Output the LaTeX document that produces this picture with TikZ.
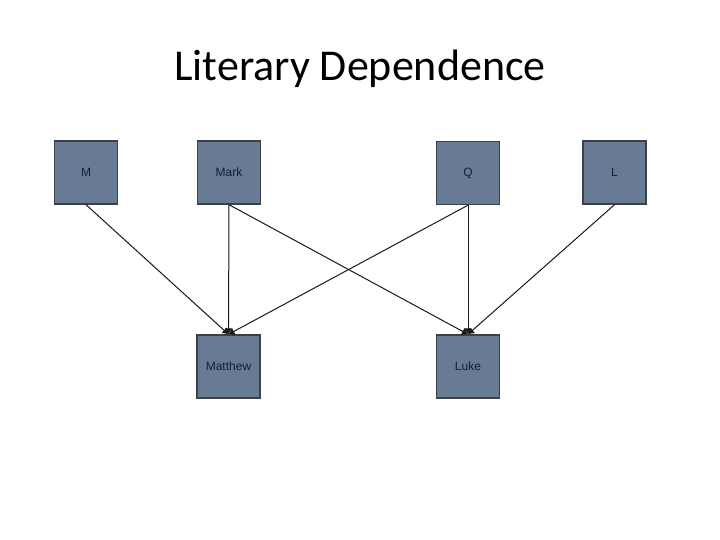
\documentclass[tikz,border=0pt]{standalone}
\usepackage{fontspec}
\setmainfont{Carlito}
\newfontfamily\boxfont{Liberation Sans}
\usetikzlibrary{arrows.meta}
\definecolor{sourceColor}{RGB}{103,123,149}
\definecolor{edgeColor}{RGB}{62,64,72}
\definecolor{labelColor}{RGB}{22,30,52}
\tikzset{source/.style={fill=sourceColor, draw=edgeColor, line width=1.4pt, minimum width=63pt, minimum height=63pt, inner sep=0pt, text=labelColor, font=\boxfont\fontsize{12}{14}\selectfont}}
\tikzset{gospel/.style={source}}
\tikzset{dep/.style={draw=black!90, line width=1pt, -{Latex[length=6pt,width=8pt]}}}

\begin{document}
\begin{tikzpicture}[x=1pt, y=1pt]
\useasboundingbox (0,0) rectangle (720,540);
% Title
\node (title) at (360,471) {\fontsize{44}{50}\selectfont Literary Dependence};

% Nodes
\node (m) [source] at (86,367.5) {M};
\node (mark) [source] at (229,367.5) {Mark};
\node (q) [source] at (468,367) {Q};
\node (l) [source] at (614.5,367.5) {L};

\node (matthew) [gospel] at (228.5,173.5) {Matthew};
\node (luke) [gospel] at (468,173.5) {Luke};

% Connectors
\begin{scope}[->]
\draw [dep] (m.south) -- (matthew.north);
\draw [dep] (mark.south) -- (matthew.north);
\draw [dep] (q.south) -- (matthew.north);

\draw [dep] (mark.south) -- (luke.north);
\draw [dep] (q.south) -- (luke.north);
\draw [dep] (l.south) -- (luke.north);
\end{scope}

\end{tikzpicture}
\end{document}
